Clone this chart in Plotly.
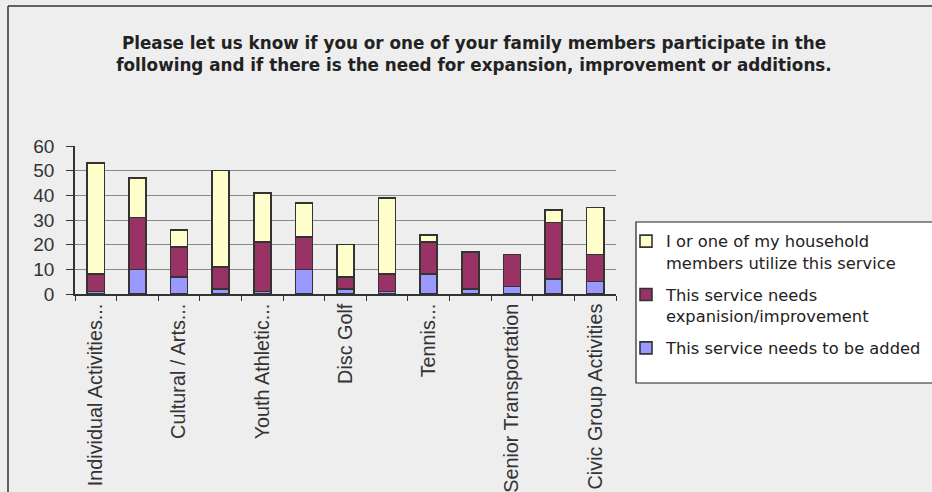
import plotly.graph_objects as go

title_text = ("Please let us know if you or one of your family members participate in the<br>"
              "following and if there is the need for expansion, improvement or additions.")

categories = ["Individual Activities...", "Category 2", "Cultural / Arts...", "Category 4",
              "Youth Athletic...", "Category 6", "Disc Golf", "Category 8", "Tennis...",
              "Category 10", "Senior Transportation", "Category 12", "Civic Group Activities"]
tick_labels = ["Individual Activities...", "", "Cultural / Arts...", "", "Youth Athletic...", "",
               "Disc Golf", "", "Tennis...", "", "Senior Transportation", "", "Civic Group Activities"]

needs_added = [1, 10, 7, 2, 1, 10, 2, 1, 8, 2, 3, 6, 5]
needs_improvement = [7, 21, 12, 9, 20, 13, 5, 7, 13, 15, 13, 23, 11]
utilize = [45, 16, 7, 39, 20, 14, 13, 31, 3, 0, 0, 5, 19]

series_names = ["This service needs to be added",
                "This service needs<br>expanision/improvement",
                "I or one of my household<br>members utilize this service"]
series_values = [needs_added, needs_improvement, utilize]
series_colors = ["#9999FF", "#993366", "#FFFFCC"]
legend_ranks = [3, 2, 1]

W, H = 932, 492
L, R, T, B = 75, 616, 146, 294


def px(x):
    return (x - L) / (R - L)


def py(y):
    return (B - y) / (B - T)


fig = go.Figure()
for name, vals, col, rank in zip(series_names, series_values, series_colors, legend_ranks):
    fig.add_trace(go.Bar(
        x=categories, y=vals, name=name, legendgroup=name, legendrank=rank,
        marker=dict(color=col, line=dict(color="#333333", width=1.6)),
    ))

fig.update_layout(
    width=W, height=H,
    barmode="stack", bargap=0.59,
    paper_bgcolor="#EEEEEE", plot_bgcolor="#EEEEEE",
    margin=dict(l=L, r=W - R, t=T, b=H - B, pad=0, autoexpand=False),
    font=dict(family="Liberation Sans, Arial, sans-serif", color="#333333"),
    title=dict(text=title_text, x=474 / W, xanchor="center", xref="container",
               y=1 - 49 / H, yanchor="middle", yref="container",
               font=dict(size=16.8, color="#222222", family="DejaVu Sans, Verdana, sans-serif",
                         weight="bold")),
    showlegend=True,
    legend=dict(
        x=px(626), xanchor="left", y=py(224), yanchor="top",
        bgcolor="rgba(0,0,0,0)", borderwidth=0,
        traceorder="grouped", tracegroupgap=8, valign="top",
        font=dict(family="DejaVu Sans, Verdana, sans-serif", size=16.3, color="#222222"),
    ),
    xaxis=dict(
        type="category", tickmode="array", tickvals=categories, ticktext=tick_labels,
        tickangle=-90, tickson="boundaries", ticks="outside", ticklen=5,
        tickcolor="#333333", tickwidth=1,
        showline=True, linecolor="#333333", linewidth=1.5, showgrid=False,
        tickfont=dict(size=19.8, color="#333333"),
    ),
    yaxis=dict(
        range=[0, 60], dtick=10, tickmode="linear",
        ticks="outside", ticklen=7, tickcolor="#333333", ticklabelstandoff=8,
        showline=True, linecolor="#333333", linewidth=1.5,
        showgrid=True, gridcolor="#8A8A8A", gridwidth=1, zeroline=False,
        tickfont=dict(size=19, color="#333333"),
    ),
    shapes=[
        dict(type="rect", xref="paper", yref="paper",
             x0=px(636), x1=px(945), y0=py(383), y1=py(222),
             fillcolor="white", line=dict(color="#222222", width=1.2), layer="below"),
        dict(type="line", xref="paper", yref="paper",
             x0=px(8), x1=px(8), y0=py(6), y1=py(495),
             line=dict(color="#333333", width=1.5)),
        dict(type="line", xref="paper", yref="paper",
             x0=px(8), x1=px(940), y0=py(6), y1=py(6),
             line=dict(color="#333333", width=1.5)),
    ],
)

fig.write_html("out.html", config={"displayModeBar": False},
               post_script="document.body.style.margin='0';")
